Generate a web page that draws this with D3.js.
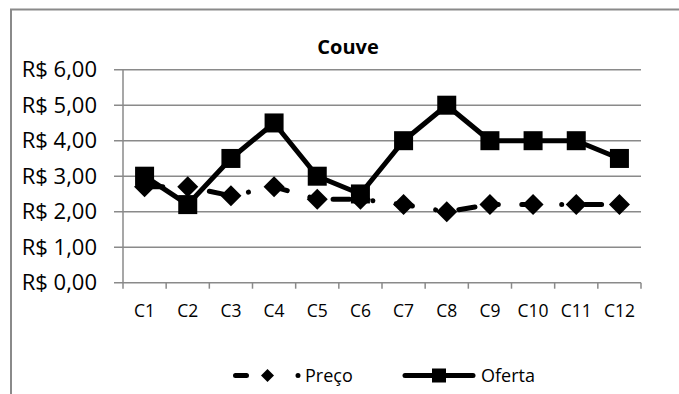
<!DOCTYPE html>
<html>
<head>
<meta charset="utf-8">
<script src="https://cdn.jsdelivr.net/npm/d3@7"></script>
<style>
  html, body { margin: 0; padding: 0; background: #fff; }
  svg { display: block; }
  text { font-family: "Open Sans", "Liberation Sans", sans-serif; fill: #000; }
</style>
</head>
<body>
<svg id="chart" width="679" height="394"></svg>
<script>
// Couve: preço e oferta por ponto de coleta
const categories = ["C1", "C2", "C3", "C4", "C5", "C6", "C7", "C8", "C9", "C10", "C11", "C12"];
const preco  = [2.70, 2.70, 2.45, 2.70, 2.35, 2.35, 2.20, 2.00, 2.20, 2.20, 2.20, 2.20];
const oferta = [3.00, 2.20, 3.50, 4.50, 3.00, 2.50, 4.00, 5.00, 4.00, 4.00, 4.00, 3.50];
const yTicks = [0, 1, 2, 3, 4, 5, 6];
const yTickLabels = ["R$ 0,00", "R$ 1,00", "R$ 2,00", "R$ 3,00", "R$ 4,00", "R$ 5,00", "R$ 6,00"];
const seriesNames = ["Preço", "Oferta"];

const svg = d3.select("#chart");
const grid = "#8a8a8a";

// outer chart frame
svg.append("path")
  .attr("d", "M11,394 L11,9.5 L679,9.5")
  .attr("fill", "none").attr("stroke", grid).attr("stroke-width", 2);

const x = d3.scaleBand().domain(categories).range([123, 641]);
const y = d3.scaleLinear().domain([0, 6]).range([282.7, 69.7]);

// horizontal gridlines with short ticks to the left of the axis
svg.append("g").selectAll("line").data(yTicks).join("line")
  .attr("x1", 114).attr("x2", 641)
  .attr("y1", d => y(d)).attr("y2", d => y(d))
  .attr("stroke", grid).attr("stroke-width", 1.5);

// vertical axis
svg.append("line")
  .attr("x1", 123).attr("x2", 123).attr("y1", y(6)).attr("y2", y(0))
  .attr("stroke", grid).attr("stroke-width", 1.5);

// category boundary ticks below the horizontal axis
const bounds = categories.map(c => x(c)).concat([x.range()[1]]);
svg.append("g").selectAll("line").data(bounds).join("line")
  .attr("x1", d => d).attr("x2", d => d)
  .attr("y1", y(0)).attr("y2", y(0) + 6)
  .attr("stroke", grid).attr("stroke-width", 1.5);

// y tick labels
svg.append("g").selectAll("text").data(yTicks).join("text")
  .attr("x", 97).attr("y", d => y(d) + 7.5)
  .attr("text-anchor", "end")
  .attr("font-size", 22)
  .text((d, i) => yTickLabels[i]);

// x tick labels
svg.append("g").selectAll("text").data(categories).join("text")
  .attr("x", d => x(d) + x.bandwidth() / 2).attr("y", 317)
  .attr("text-anchor", "middle")
  .attr("font-size", 17.5)
  .text(d => d);

// title
svg.append("text")
  .attr("x", 348).attr("y", 54)
  .attr("text-anchor", "middle")
  .attr("font-size", 20).attr("font-weight", "bold")
  .text("Couve");

const cx = (d, i) => x(categories[i]) + x.bandwidth() / 2;
const line = d3.line().x(cx).y(d => y(d));

// square diamond with half-diagonal s
const diamondPath = s => `M0,${-s} L${s},0 L0,${s} L${-s},0 Z`;

// Preço: dash – dot line with diamond markers
svg.append("path")
  .attr("d", line(preco))
  .attr("fill", "none").attr("stroke", "#000").attr("stroke-width", 5)
  .attr("stroke-linecap", "round").attr("stroke-linejoin", "round")
  .attr("stroke-dasharray", "16.4 23.5 0.01 23.5")
  .attr("stroke-dashoffset", -1.8);

svg.append("g").selectAll("path").data(preco).join("path")
  .attr("transform", (d, i) => `translate(${cx(d, i)},${y(d)})`)
  .attr("d", diamondPath(10.5))
  .attr("fill", "#000");

// Oferta: solid line with square markers
svg.append("path")
  .attr("d", line(oferta))
  .attr("fill", "none").attr("stroke", "#000").attr("stroke-width", 5)
  .attr("stroke-linejoin", "round");

svg.append("g").selectAll("rect").data(oferta).join("rect")
  .attr("x", (d, i) => cx(d, i) - 9.5).attr("y", d => y(d) - 9.5)
  .attr("width", 19).attr("height", 19)
  .attr("fill", "#000");

// legend
const ly = 375.5;
const legend = svg.append("g");
legend.append("line")
  .attr("x1", 235.5).attr("x2", 300).attr("y1", ly).attr("y2", ly)
  .attr("stroke", "#000").attr("stroke-width", 5).attr("stroke-linecap", "round")
  .attr("stroke-dasharray", "11 51.5 0.01 100");
legend.append("path")
  .attr("transform", `translate(267.5,${ly})`)
  .attr("d", diamondPath(6.5)).attr("fill", "#000");
legend.append("text")
  .attr("x", 305).attr("y", 382).attr("font-size", 18).text(seriesNames[0]);

legend.append("line")
  .attr("x1", 405).attr("x2", 473).attr("y1", ly).attr("y2", ly)
  .attr("stroke", "#000").attr("stroke-width", 5).attr("stroke-linecap", "round");
legend.append("rect")
  .attr("x", 432).attr("y", ly - 7).attr("width", 14).attr("height", 14)
  .attr("fill", "#000");
legend.append("text")
  .attr("x", 481).attr("y", 382).attr("font-size", 18).text(seriesNames[1]);
</script>
</body>
</html>
